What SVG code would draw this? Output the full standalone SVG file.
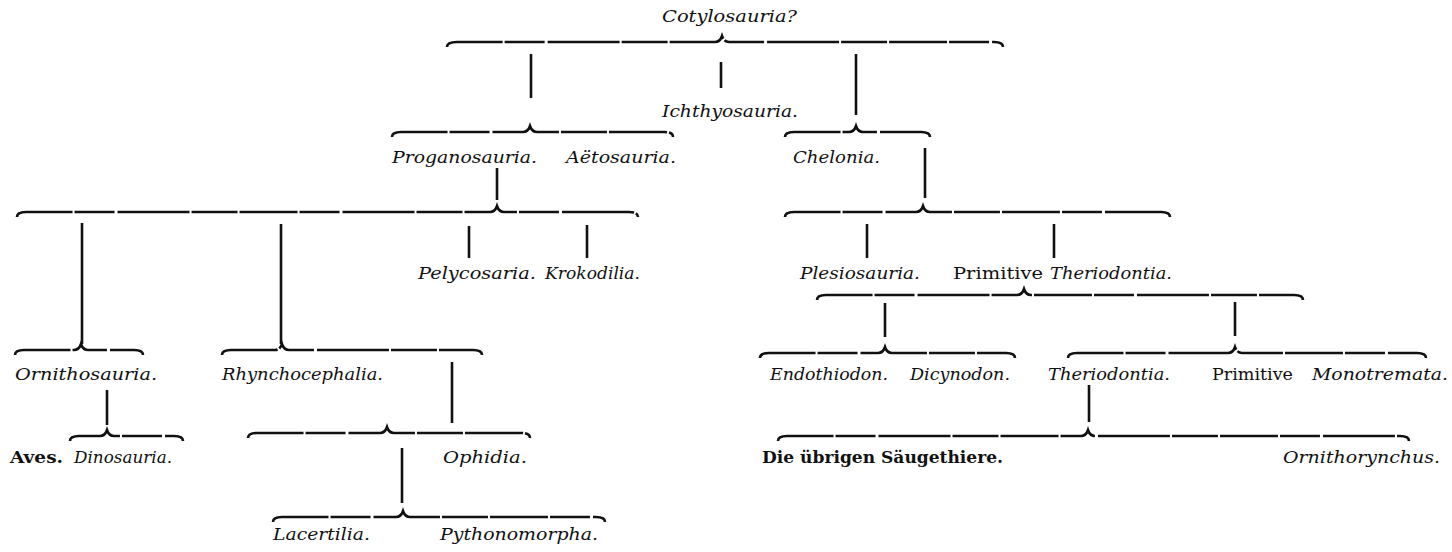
<svg xmlns="http://www.w3.org/2000/svg" width="1452" height="552" viewBox="0 0 1452 552">
<style>
text{font-family:"DejaVu Serif","Liberation Serif",serif;font-size:17px;fill:#111}
.i{font-style:italic}
.b{font-weight:bold}
.c path,.c line{stroke:#111;fill:none;stroke-width:2.6;stroke-linecap:butt}
.c path{stroke-dasharray:58 2 40 3 72 2 46 2}
</style>
<rect width="1452" height="552" fill="#fff"/>
<g class="c" id="connectors">
<path d="M447,47 Q447,42 457,42 L715,42 Q720,42 722,36 Q724,42 729,42 L994,42 Q1003,42 1003,47"/>
<line x1="531" y1="54" x2="531" y2="98"/>
<line x1="721" y1="62" x2="721" y2="88"/>
<line x1="856" y1="54" x2="856" y2="115"/>
<path d="M392,137 Q392,132 401,132 L523,132 Q528,132 530,126 Q532,132 537,132 L664,132 Q673,132 673,137"/>
<path d="M785,137 Q785,132 794,132 L849,132 Q854,132 856,126 Q858,132 863,132 L921,132 Q930,132 930,137"/>
<line x1="925" y1="148" x2="925" y2="198"/>
<line x1="497" y1="168" x2="497" y2="200"/>
<path d="M17,217 Q17,212 26,212 L490,212 Q495,212 497,206 Q499,212 504,212 L629,212 Q638,212 638,217"/>
<line x1="82" y1="223" x2="82" y2="344"/>
<line x1="281" y1="224" x2="281" y2="344"/>
<line x1="469" y1="226" x2="469" y2="258"/>
<line x1="587" y1="225" x2="587" y2="258"/>
<path d="M785,217 Q785,212 794,212 L916,212 Q921,212 923,206 Q925,212 930,212 L1161,212 Q1170,212 1170,217"/>
<line x1="867" y1="224" x2="867" y2="258"/>
<line x1="1054" y1="224" x2="1054" y2="258"/>
<path d="M817,300 Q817,295 826,295 L1017,295 Q1022,295 1024,289 Q1026,295 1031,295 L1294,295 Q1303,295 1303,300"/>
<line x1="885" y1="303" x2="885" y2="337"/>
<line x1="1235" y1="302" x2="1235" y2="336"/>
<path d="M760,358 Q760,353 769,353 L878,353 Q883,353 885,347 Q887,353 892,353 L1006,353 Q1015,353 1015,358"/>
<path d="M1068,358 Q1068,353 1077,353 L1228,353 Q1233,353 1235,347 Q1237,353 1242,353 L1417,353 Q1426,353 1426,358"/>
<line x1="1089" y1="385" x2="1089" y2="422"/>
<path d="M778,441 Q778,436 787,436 L1081,436 Q1086,436 1088,430 Q1090,436 1095,436 L1400,436 Q1409,436 1409,441"/>
<path d="M15,355 Q15,350 24,350 L74,350 Q79,350 81,344 Q83,350 88,350 L134,350 Q143,350 143,355"/>
<path d="M222,355 Q222,350 231,350 L275,350 Q280,350 282,344 Q284,350 289,350 L473,350 Q482,350 482,355"/>
<line x1="452" y1="362" x2="452" y2="423"/>
<line x1="107" y1="390" x2="107" y2="425"/>
<path d="M70,441 Q70,436 79,436 L100,436 Q105,436 107,430 Q109,436 114,436 L174,436 Q183,436 183,441"/>
<path d="M248,438 Q248,433 257,433 L380,433 Q385,433 387,427 Q389,433 394,433 L521,433 Q530,433 530,438"/>
<line x1="402" y1="448" x2="402" y2="503"/>
<path d="M273,522 Q273,517 282,517 L396,517 Q401,517 403,511 Q405,517 410,517 L596,517 Q605,517 605,522"/>
</g>
<g id="cotylosauria"><text class="i" x="662" y="22" textLength="135" lengthAdjust="spacingAndGlyphs">Cotylosauria?</text></g>
<g id="ichthyosauria"><text class="i" x="662" y="117" textLength="136" lengthAdjust="spacingAndGlyphs">Ichthyosauria.</text></g>
<g id="proganosauria"><text class="i" x="392" y="163" textLength="145" lengthAdjust="spacingAndGlyphs">Proganosauria.</text></g>
<g id="aetosauria"><text class="i" x="566" y="163" textLength="110" lengthAdjust="spacingAndGlyphs">Aëtosauria.</text></g>
<g id="chelonia"><text class="i" x="793" y="163" textLength="87" lengthAdjust="spacingAndGlyphs">Chelonia.</text></g>
<g id="pelycosaria"><text class="i" x="418" y="279" textLength="118" lengthAdjust="spacingAndGlyphs">Pelycosaria.</text></g>
<g id="krokodilia"><text class="i" x="545" y="279" textLength="95" lengthAdjust="spacingAndGlyphs">Krokodilia.</text></g>
<g id="plesiosauria"><text class="i" x="800" y="279" textLength="120" lengthAdjust="spacingAndGlyphs">Plesiosauria.</text></g>
<g id="primitive-theriodontia"><text x="953" y="279"><tspan textLength="90" lengthAdjust="spacingAndGlyphs">Primitive</tspan><tspan class="i" x="1050" textLength="122" lengthAdjust="spacingAndGlyphs">Theriodontia.</tspan></text></g>
<g id="ornithosauria"><text class="i" x="15" y="380" textLength="142" lengthAdjust="spacingAndGlyphs">Ornithosauria.</text></g>
<g id="rhynchocephalia"><text class="i" x="222" y="380" textLength="161" lengthAdjust="spacingAndGlyphs">Rhynchocephalia.</text></g>
<g id="aves"><text class="b" x="10" y="463" textLength="53" lengthAdjust="spacingAndGlyphs">Aves.</text></g>
<g id="dinosauria"><text class="i" x="74" y="463" textLength="98" lengthAdjust="spacingAndGlyphs">Dinosauria.</text></g>
<g id="ophidia"><text class="i" x="443" y="463" textLength="84" lengthAdjust="spacingAndGlyphs">Ophidia.</text></g>
<g id="lacertilia"><text class="i" x="273" y="540" textLength="97" lengthAdjust="spacingAndGlyphs">Lacertilia.</text></g>
<g id="pythonomorpha"><text class="i" x="440" y="540" textLength="158" lengthAdjust="spacingAndGlyphs">Pythonomorpha.</text></g>
<g id="endothiodon"><text class="i" x="770" y="380" textLength="118" lengthAdjust="spacingAndGlyphs">Endothiodon.</text></g>
<g id="dicynodon"><text class="i" x="910" y="380" textLength="100" lengthAdjust="spacingAndGlyphs">Dicynodon.</text></g>
<g id="theriodontia"><text class="i" x="1048" y="380" textLength="122" lengthAdjust="spacingAndGlyphs">Theriodontia.</text></g>
<g id="primitive-monotremata"><text x="1212" y="380"><tspan textLength="81" lengthAdjust="spacingAndGlyphs">Primitive</tspan><tspan class="i" x="1312" textLength="136" lengthAdjust="spacingAndGlyphs">Monotremata.</tspan></text></g>
<g id="saeugethiere"><text class="b" x="762" y="463" textLength="241" lengthAdjust="spacingAndGlyphs">Die übrigen Säugethiere.</text></g>
<g id="ornithorynchus"><text class="i" x="1283" y="463" textLength="157" lengthAdjust="spacingAndGlyphs">Ornithorynchus.</text></g>
</svg>
